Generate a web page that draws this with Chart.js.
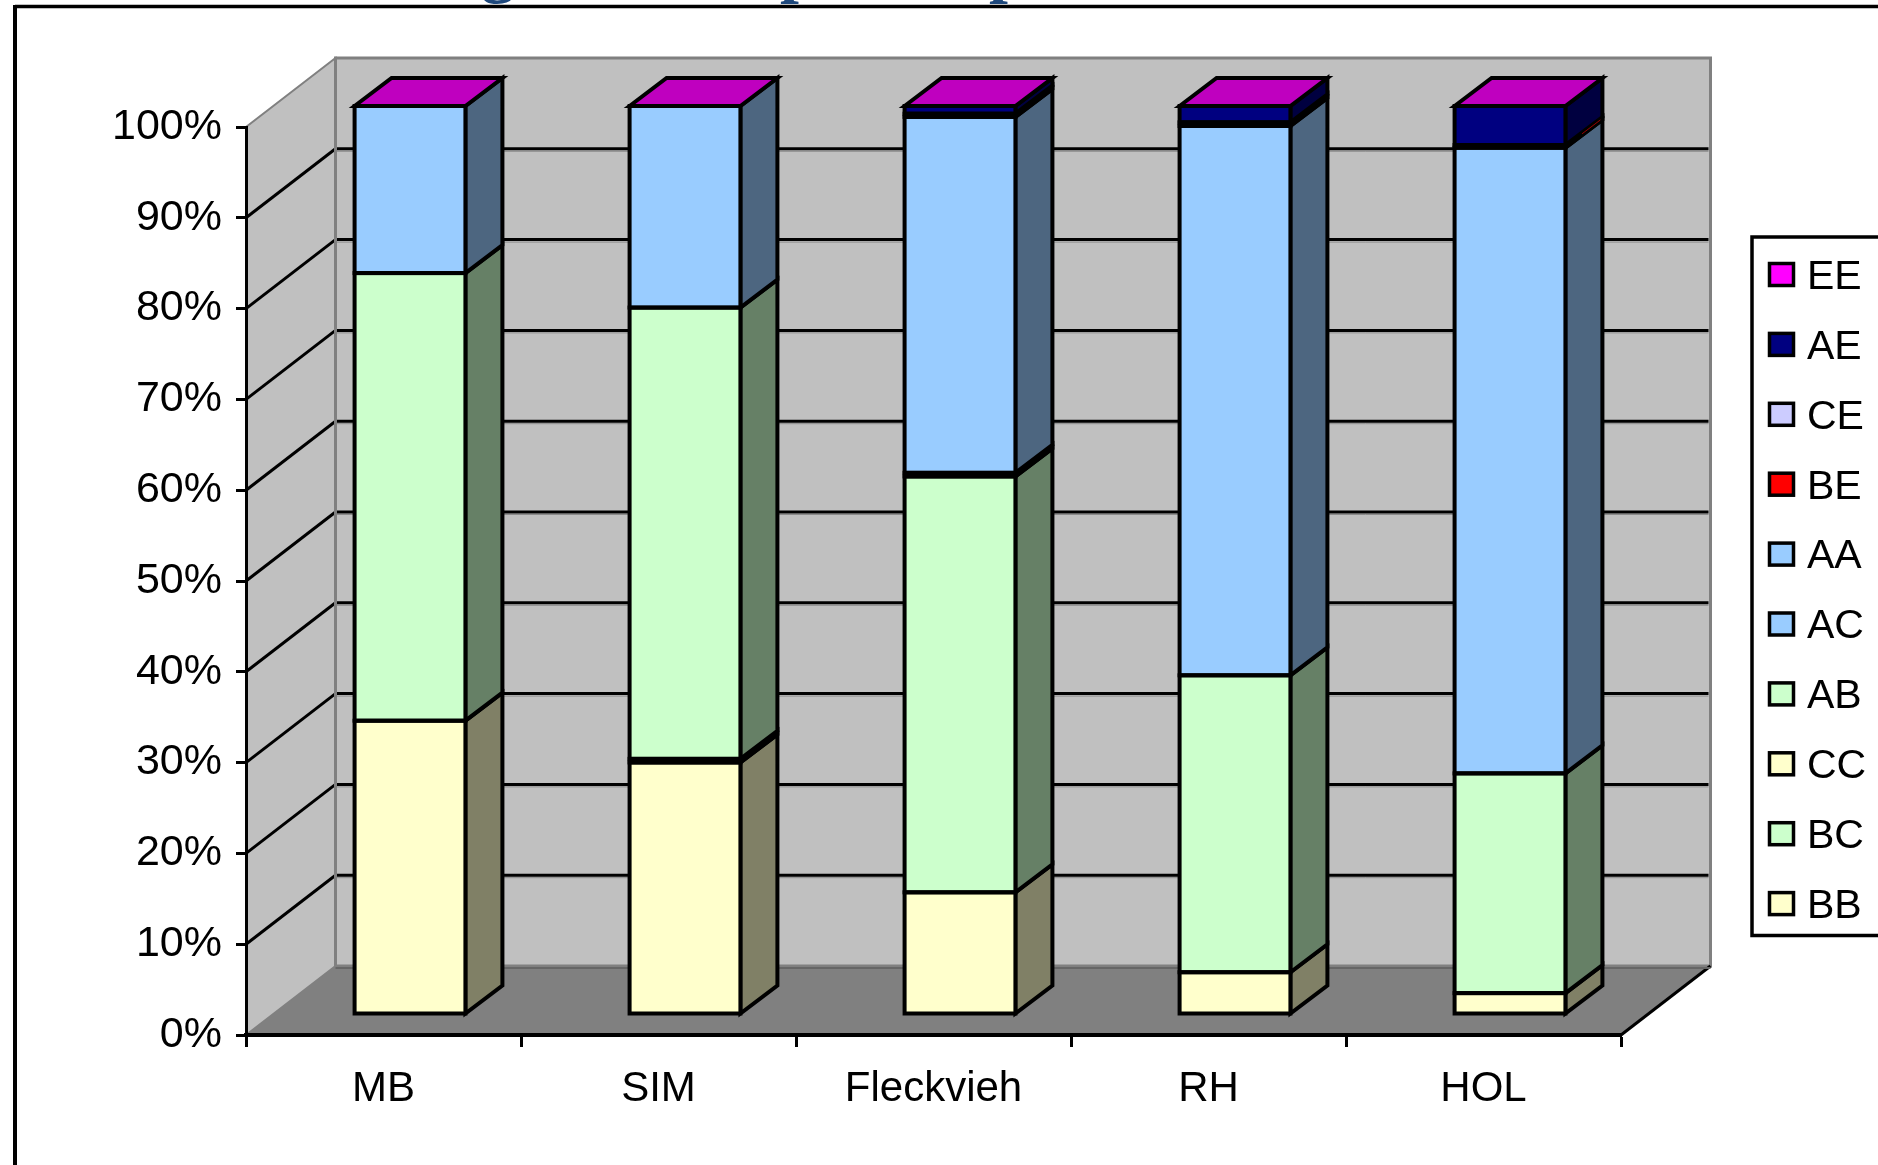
<!DOCTYPE html>
<html>
<head>
<meta charset="utf-8">
<title>Kappa casein genotypes</title>
<script src="https://cdn.jsdelivr.net/npm/chart.js@4"></script>
<style>
  html, body { margin: 0; padding: 0; background: #fff; }
  canvas { display: block; }
</style>
</head>
<body>
<canvas id="myBarChart" width="1878" height="1165"></canvas>
<script>
// -- Stacked 3D style column chart
var breeds = ["MB", "SIM", "Fleckvieh", "RH", "HOL"];

var seriesNames = ["BB", "BC", "CC", "AB", "AC", "AA", "BE", "CE", "AE", "EE"];

var BB = [32.3, 27.7, 13.4, 4.6, 2.3];
var BC = [0, 0.4, 0, 0, 0];
var CC = [0, 0, 0, 0, 0];
var AB = [49.3, 49.7, 45.8, 32.7, 24.2];
var AC = [0, 0, 0.4, 0, 0];
var AA = [18.4, 22.2, 39.2, 60.5, 68.9];
var BE = [0, 0, 0, 0, 0.3];
var CE = [0, 0, 0.35, 0.4, 0];
var AE = [0, 0, 0.85, 1.8, 4.3];
var EE = [0, 0, 0, 0, 0];

var seriesValues = [BB, BC, CC, AB, AC, AA, BE, CE, AE, EE];
var seriesColors = ["#FFFFCC", "#CCFFCC", "#FFFFCC", "#CCFFCC", "#99CCFF", "#99CCFF", "#FF0000", "#CCCCFF", "#000080", "#FF00FF"];

var fontName = '"Liberation Sans", Arial, sans-serif';

// depth of the box behind the axes, and of each column
var wallDx = 89.5, wallDy = 69;
var barShiftX = 26.5, barShiftY = 21;
var barDepthX = 37, barDepthY = 28;
var outline = 4;

function shade(hex, f) {
  var n = parseInt(hex.slice(1), 16);
  return "rgb(" + Math.round((n >> 16) * f) + "," + Math.round(((n >> 8) & 255) * f) + "," + Math.round((n & 255) * f) + ")";
}

function poly(ctx, pts, fill, stroke, width) {
  ctx.beginPath();
  pts.forEach(function (p, i) {
    if (i == 0) ctx.moveTo(p[0], p[1]);
    else ctx.lineTo(p[0], p[1]);
  });
  ctx.closePath();
  if (fill) { ctx.fillStyle = fill; ctx.fill(); }
  if (stroke) { ctx.strokeStyle = stroke; ctx.lineWidth = width; ctx.lineJoin = "miter"; ctx.stroke(); }
}

function line(ctx, x1, y1, x2, y2, color, width) {
  ctx.beginPath();
  ctx.moveTo(x1, y1);
  ctx.lineTo(x2, y2);
  ctx.strokeStyle = color;
  ctx.lineWidth = width;
  ctx.stroke();
}

// side wall, back wall, floor and the gridlines running over them
var wallsPlugin = {
  id: "walls",
  beforeDraw: function (chart) {
    var ctx = chart.ctx, a = chart.chartArea, y = chart.scales.y;
    ctx.save();

    // outer frame and the foot of the heading above it
    ctx.fillStyle = "#1F497D";
    ctx.font = 'bold 68px "Liberation Serif", serif';
    ctx.textAlign = "center";
    ctx.textBaseline = "alphabetic";
    ctx.fillText("g", 498, -10.5);
    ctx.fillText("p", 799, -10.5);
    ctx.fillText("p", 1008, -10.5);
    line(ctx, 15, 6.5, 1878, 6.5, "#000", 3.5);
    line(ctx, 15, 5, 15, 1165, "#000", 4);

    var back = a.left + wallDx, up = wallDy;
    poly(ctx, [[a.left, a.bottom], [back, a.bottom - up], [a.right + wallDx, a.bottom - up], [a.right, a.bottom]], "#808080");
    poly(ctx, [[a.left, a.top], [back, a.top - up], [back, a.bottom - up], [a.left, a.bottom]], "#C0C0C0", "#808080", 2);
    poly(ctx, [[back, a.top - up], [a.right + wallDx, a.top - up], [a.right + wallDx, a.bottom - up], [back, a.bottom - up]], "#C0C0C0", "#808080", 3);
    line(ctx, a.right, a.bottom, a.right + wallDx, a.bottom - up, "#000", 3);
    line(ctx, back, a.bottom - up + 2, a.right + wallDx, a.bottom - up + 2, "#666", 2);

    y.ticks.forEach(function (t) {
      if (t.value == 0 || t.value == 100) return;
      var py = y.getPixelForValue(t.value);
      line(ctx, back, py - up + 2.5, a.right + wallDx - 2, py - up + 2.5, "#8C8C8C", 1);
      line(ctx, a.left, py, back, py - up, "#000", 3);
      line(ctx, back, py - up, a.right + wallDx - 2, py - up, "#000", 3);
    });
    line(ctx, back, a.top - up, back, a.bottom - up, "#808080", 3);
    ctx.restore();
  }
};

// columns stand a little behind the axis plane: the bar fills are drawn by
// the library, the sides, top faces and outlines come from the same elements
var columnsPlugin = {
  id: "columns",
  beforeDatasetsDraw: function (chart) {
    var ctx = chart.ctx;
    ctx.save();
    ctx.translate(barShiftX, -barShiftY);
    chart.data.datasets.forEach(function (ds, i) {
      chart.getDatasetMeta(i).data.forEach(function (bar) {
        var right = bar.x + bar.width / 2, left = bar.x - bar.width / 2;
        if (bar.base - bar.y > 0) {
          poly(ctx, [[right, bar.y], [right + barDepthX, bar.y - barDepthY], [right + barDepthX, bar.base - barDepthY], [right, bar.base]],
            shade(seriesColors[i], 0.5), "#000", outline);
        }
        if (i == seriesNames.length - 1) {
          poly(ctx, [[left, bar.y], [left + barDepthX, bar.y - barDepthY], [right + barDepthX, bar.y - barDepthY], [right, bar.y]],
            shade(seriesColors[i], 0.75), "#000", outline);
        }
      });
    });
    // the red band is thinner than the outline, only its far end shows through
    chart.getDatasetMeta(seriesNames.indexOf("BE")).data.forEach(function (bar) {
      if (bar.base - bar.y <= 0) return;
      var right = bar.x + bar.width / 2, mid = (bar.y + bar.base) / 2;
      line(ctx, right + barDepthX * 0.45, mid - barDepthY * 0.45, right + barDepthX - 2, mid - barDepthY + 1.5, shade(seriesColors[6], 0.6), 1);
    });
  },
  afterDatasetsDraw: function (chart) {
    var ctx = chart.ctx;
    chart.data.datasets.forEach(function (ds, i) {
      chart.getDatasetMeta(i).data.forEach(function (bar) {
        if (bar.base - bar.y <= 0) return;
        ctx.strokeStyle = "#000";
        ctx.lineWidth = outline;
        ctx.strokeRect(bar.x - bar.width / 2, bar.y, bar.width, bar.base - bar.y);
      });
    });
    ctx.restore();
  }
};

// boxed key on the right, last series first
var keyPlugin = {
  id: "key",
  afterDraw: function (chart) {
    var ctx = chart.ctx;
    ctx.save();
    ctx.strokeStyle = "#000";
    ctx.lineWidth = 3.5;
    ctx.beginPath();
    ctx.moveTo(1880, 237);
    ctx.lineTo(1752, 237);
    ctx.lineTo(1752, 935.5);
    ctx.lineTo(1880, 935.5);
    ctx.stroke();

    ctx.font = "41px " + fontName;
    ctx.textAlign = "left";
    ctx.textBaseline = "middle";
    for (var i = 0; i < seriesNames.length; i++) {
      var s = seriesNames.length - 1 - i;
      var cy = 274.5 + i * 69.9;
      ctx.fillStyle = seriesColors[s];
      ctx.fillRect(1769.5, cy - 11, 24, 22);
      ctx.strokeRect(1769.5, cy - 11, 24, 22);
      ctx.fillStyle = "#000";
      ctx.fillText(seriesNames[s], 1807, cy + 3);
    }
    ctx.restore();
  }
};

var ctx2 = document.getElementById("myBarChart");

var myBarChart = new Chart(ctx2, {
  type: "bar",
  data: {
    labels: breeds,
    datasets: seriesNames.map(function (name, i) {
      return {
        label: name,
        data: seriesValues[i],
        backgroundColor: seriesColors[i],
        borderWidth: 0,
        categoryPercentage: 1,
        barPercentage: 0.403,
        clip: false
      };
    })
  },
  options: {
    responsive: false,
    animation: false,
    events: [],
    layout: { padding: { top: 127, right: 257, left: 0, bottom: 0 } },
    plugins: {
      legend: { display: false },
      tooltip: { enabled: false },
      title: { display: false }
    },
    scales: {
      x: {
        stacked: true,
        afterFit: function (scale) { scale.height = 130; },
        border: { color: "#000", width: 4 },
        grid: { offset: true, drawOnChartArea: false, tickColor: "#000", tickWidth: 3, tickLength: 12 },
        ticks: { color: "#000", padding: 17, maxRotation: 0, font: { family: fontName, size: 42 } }
      },
      y: {
        stacked: true,
        min: 0,
        max: 100,
        afterFit: function (scale) { scale.width = 246; },
        border: { color: "#000", width: 3 },
        grid: { drawOnChartArea: false, tickColor: "#000", tickWidth: 3, tickLength: 10 },
        ticks: {
          stepSize: 10,
          color: "#000",
          padding: 14,
          font: { family: fontName, size: 43 },
          callback: function (value) { return value + "%"; }
        }
      }
    }
  },
  plugins: [wallsPlugin, columnsPlugin, keyPlugin]
});
</script>
</body>
</html>
